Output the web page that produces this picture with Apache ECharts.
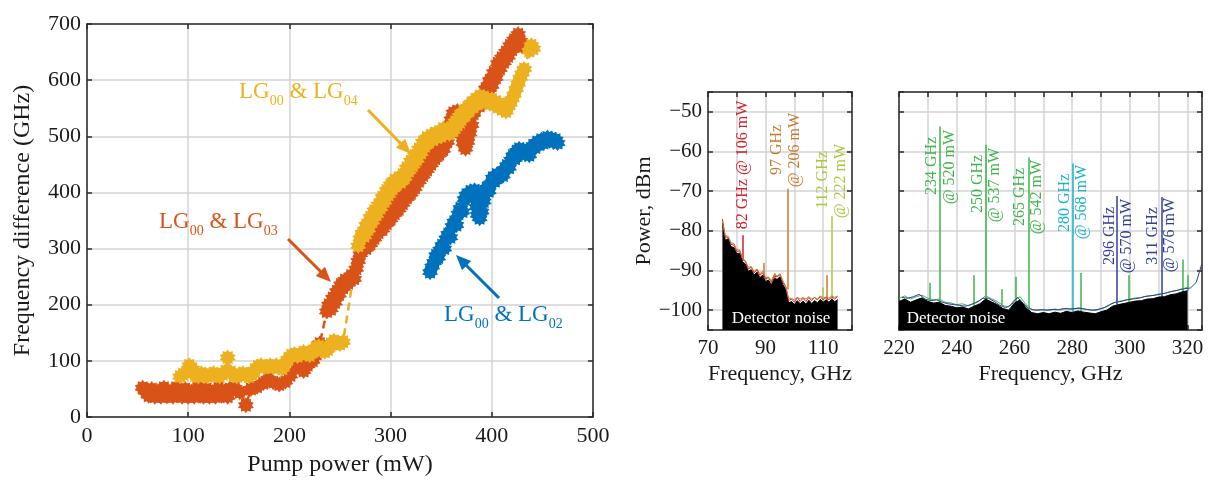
<!DOCTYPE html>
<html><head><meta charset="utf-8">
<script src="https://cdn.jsdelivr.net/npm/echarts@6/dist/echarts.min.js"></script>
<style>html,body{margin:0;padding:0;background:#fff}#c{width:1209px;height:482px}</style>
</head><body><div id="c"></div>
<script>
// ---------- Left panel: frequency difference vs pump power ----------
const lg02 = [[339,258],[341,268],[343,276],[345,288],[347,284],[349,298],[351,306],[353,300],[355,318],[357,326],[359,320],[361,340],[363,348],[365,342],[367,362],[369,372],[371,366],[373,388],[375,396],[377,392],[379,402],[381,398],[383,404],[384,390],[385,374],[386,360],[388,354],[390,366],[392,384],[393,398],[395,408],[397,402],[399,416],[401,426],[403,420],[405,432],[407,428],[409,434],[411,430],[413,442],[415,448],[417,444],[419,458],[421,466],[423,460],[425,474],[427,478],[429,472],[431,476],[433,468],[435,472],[437,466],[439,478],[441,484],[443,480],[445,490],[447,486],[449,494],[451,488],[453,494],[455,498],[457,492],[459,496],[461,490],[463,494],[465,488]];
const lg03 = [[55,52],[58,45],[61,38],[64,50],[67,36],[70,46],[73,36],[76,52],[79,37],[82,45],[85,36],[88,52],[91,40],[94,36],[97,50],[100,36],[103,45],[106,36],[109,52],[112,38],[115,36],[118,50],[121,36],[124,44],[127,36],[130,52],[133,38],[136,45],[139,36],[141,50],[146,52],[151,44],[157,21],[162,50],[168,54],[174,60],[179,68],[184,62],[190,58],[196,63],[201,74],[205,106],[209,90],[214,82],[218,92],[223,100],[227,112],[230,131],[237,188],[239,200],[241,192],[243,212],[245,204],[247,224],[249,218],[251,236],[253,230],[255,244],[258,238],[261,252],[264,246],[266,264],[268,278],[270,290],[272,302],[274,312],[276,300],[278,318],[280,308],[282,328],[284,318],[286,340],[288,328],[290,344],[292,334],[294,356],[296,344],[298,364],[300,352],[302,372],[304,362],[306,382],[308,370],[310,392],[312,380],[314,400],[316,390],[318,410],[320,398],[322,420],[324,408],[326,432],[328,420],[330,442],[332,430],[334,452],[336,440],[338,460],[340,450],[342,472],[344,460],[346,480],[348,468],[350,488],[352,476],[354,496],[356,490],[358,515],[360,530],[362,542],[364,535],[366,545],[368,520],[370,502],[372,488],[374,478],[376,490],[378,505],[380,520],[382,540],[384,550],[386,560],[388,554],[390,570],[392,562],[394,585],[396,576],[398,600],[400,590],[402,614],[404,604],[406,630],[408,620],[410,640],[412,632],[414,650],[416,642],[418,662],[420,654],[422,672],[424,666],[426,682],[428,670],[430,660]];
const lg04 = [[92,72],[95,76],[98,80],[101,92],[104,86],[107,74],[110,72],[113,78],[116,74],[119,72],[122,76],[125,78],[128,74],[131,72],[134,76],[137,82],[139,106],[142,80],[145,74],[148,72],[151,76],[154,78],[157,74],[160,72],[163,76],[166,84],[169,90],[172,92],[175,88],[178,90],[181,92],[184,88],[187,92],[190,88],[193,86],[196,96],[199,104],[202,110],[205,112],[208,108],[211,112],[214,116],[217,112],[220,110],[223,116],[226,124],[229,126],[232,118],[235,116],[238,120],[241,130],[244,136],[247,132],[250,130],[253,134],[268,305],[270,318],[272,328],[274,322],[276,342],[278,334],[280,356],[282,348],[284,368],[286,360],[288,378],[290,372],[292,392],[294,384],[296,404],[298,396],[300,414],[302,406],[304,422],[306,414],[308,426],[310,418],[312,432],[314,426],[316,444],[318,438],[320,456],[322,448],[324,466],[326,458],[328,478],[330,470],[332,490],[334,482],[336,498],[338,490],[340,502],[342,494],[344,506],[346,498],[348,508],[350,500],[352,514],[354,506],[356,512],[358,504],[360,516],[362,510],[364,526],[366,520],[368,536],[370,530],[372,544],[374,538],[376,552],[378,546],[380,560],[382,552],[384,566],[386,558],[388,572],[390,564],[392,570],[394,560],[396,566],[398,558],[400,566],[402,556],[404,562],[406,552],[408,558],[410,548],[412,554],[414,544],[416,552],[418,558],[420,566],[422,574],[424,584],[426,594],[428,604],[430,612],[432,620],[437,652],[439,662],[441,656]];

// ---------- Middle panel: 70-120 GHz spectrum ----------
const lowFreq = [75,76,77,78,79,80,81,82,83,84,85,86,87,88,89,90,91,92,93,94,95,96,97,98,99,100,101,102,103,104,105,106,107,108,109,110,111,112,113,114,115];
const lowNoise = [-78.0,-82.4,-82.0,-84.0,-84.2,-85.8,-85.6,-87.8,-88.4,-90.2,-89.8,-91.2,-90.4,-91.8,-91.2,-92.8,-92.4,-93.6,-92.0,-92.2,-91.6,-93.6,-94.8,-98.2,-97.8,-98.6,-97.6,-98.4,-97.7,-98.5,-97.5,-98.3,-97.6,-98.1,-97.3,-98.0,-97.4,-98.0,-97.2,-97.9,-97.3];
const lowRed = [-77.0,-81.6,-81.6,-83.4,-83.6,-85.2,-85.0,-87.2,-87.8,-89.6,-89.2,-90.6,-89.8,-91.2,-90.6,-92.2,-91.8,-93.0,-91.4,-91.6,-91.0,-93.0,-94.2,-97.6,-97.2,-98.0,-96.8,-97.8,-97.0,-97.8,-96.8,-97.6,-96.8,-97.4,-96.6,-97.4,-96.8,-97.4,-96.6,-97.2,-96.6];
const lowOrange = [-77.8,-81.2,-81.4,-83.0,-83.2,-84.8,-84.8,-86.8,-87.6,-89.2,-89.0,-90.2,-89.6,-90.8,-90.2,-91.8,-91.6,-92.6,-91.0,-91.4,-90.8,-92.6,-94.0,-97.0,-97.0,-97.4,-96.8,-97.2,-96.8,-97.2,-96.6,-97.2,-96.8,-97.2,-96.4,-97.0,-96.6,-97.0,-96.4,-96.8,-96.4];
const lowPeakFreq = [82, 89.4, 93.3, 97.6, 111.4, 109.8, 112.8];
const lowPeakTop  = [-81.1, -88.1, -90.7, -69.4, -91.2, -94.3, -76.3];
const lowPeakBase = [-87.4, -92.0, -92.0, -94.8, -97.6, -97.8, -97.4];
const lowPeakGroup = [0, 1, 1, 1, 1, 2, 2];

// ---------- Right panel: 220-325 GHz spectrum ----------
const highFreq = [220,222,224,226,228,230,232,234,236,238,240,242,244,246,248,250,252,254,256,258,260,262,264,266,268,270,272,274,276,278,280,282,284,286,288,290,292,294,296,298,300,302,304,306,308,310,312,314,316,318,320];
const highNoise = [-97.8,-97.2,-98.0,-97.4,-96.9,-97.8,-98.2,-98.0,-98.8,-99.0,-99.4,-99.2,-99.7,-99.0,-98.4,-97.2,-97.9,-98.6,-99.6,-100.0,-98.2,-97.4,-99.4,-100.6,-100.9,-100.6,-100.9,-100.5,-100.8,-100.3,-100.6,-100.2,-100.5,-100.7,-100.9,-100.4,-100.0,-99.0,-98.6,-98.3,-98.0,-97.7,-97.6,-97.2,-97.1,-96.7,-96.6,-96.1,-95.9,-95.4,-95.1];
const highGreen = [-97.0,-96.4,-97.2,-96.6,-96.2,-97.0,-97.4,-97.2,-98.0,-98.2,-98.6,-98.4,-98.9,-98.2,-97.6,-96.4,-97.1,-97.8,-98.8,-99.2,-97.4,-96.6,-98.6,-99.8,-100.1,-99.8,-100.1,-99.7,-100.0,-99.5,-99.8,-99.4,-99.7,-99.9,-100.1,-99.6,-99.2,-98.2,-97.8,-97.5,-97.2,-96.9,-96.8,-96.4,-96.3,-95.9,-95.8,-95.3,-95.1,-94.6,-94.3];
const highNavyFreq = [221,223,225,227,229,231,233,235,237,239,241,243,245,247,249,251,253,255,257,259,261,263,265,267,269,271,273,275,277,279,281,283,285,287,289,291,293,295,297,299,301,303,305,307,309,311,313,315,317,319,321,323,325];
const highNavy = [-96.8,-97.0,-96.6,-96.0,-97.2,-97.6,-97.4,-98.0,-98.4,-98.6,-98.8,-99.0,-98.6,-98.0,-97.0,-97.0,-97.8,-98.8,-99.4,-98.6,-96.8,-98.2,-99.6,-100.0,-99.9,-100.0,-99.8,-99.9,-99.6,-99.7,-99.6,-99.5,-99.8,-100.0,-99.8,-99.4,-98.6,-98.0,-97.8,-97.4,-97.2,-97.0,-96.6,-96.4,-96.2,-95.9,-95.6,-95.2,-94.9,-94.6,-94.4,-93.0,-88.2];
const highPeakFreq = [230.5, 234.2, 246, 249.9, 255.7, 260.6, 264.9, 280.3, 283, 295.6, 299.5, 310.9, 318.2, 319.9];
const highPeakTop  = [-93.1, -53.7, -91.2, -58.3, -94.7, -91.6, -61.5, -63.0, -90.6, -71.2, -91.2, -71.5, -87.2, -91.2];
const highPeakBase = [-97.6, -98.0, -99.0, -97.3, -98.8, -98.2, -99.5, -100.5, -100.4, -98.6, -98.0, -96.7, -95.4, -95.1];
const highPeakGroup = [0, 0, 0, 0, 0, 0, 0, 1, 0, 2, 0, 2, 0, 0];

const dbTicks = [-100, -90, -80, -70, -60, -50];
const lowLabels = [['82 GHz @ 106 mW'], ['97 GHz', '@ 206 mW'], ['112 GHz', '@ 222 mW']];
const highLabels = [['234 GHz', '@ 520 mW'], ['250 GHz', '@ 537 mW'], ['265 GHz', '@ 542 mW'], ['280 GHz', '@ 568 mW'], ['296 GHz', '@ 570 mW'], ['311 GHz', '@ 576 mW']];

// ---------- styles ----------
const SERIF = '"Liberation Serif", "Times New Roman", serif';
const C_BLUE = '#0072BD', C_RED = '#D95319', C_YEL = '#EDB120';
const lowColors = ['#d1202c', '#c87a2c', '#a9c83a'];
const highColors = ['#3db54a', '#19b3c9', '#2e3f96'];
const AX = '#2a2a2a', GRIDC = '#d3d3d3';

function starPath(n, inner) {
  let d = '';
  for (let i = 0; i < 2 * n; i++) {
    const r = i % 2 === 0 ? 1 : inner;
    const a = Math.PI * i / n - Math.PI / 2;
    d += (i === 0 ? 'M' : 'L') + (r * Math.cos(a)).toFixed(3) + ' ' + (r * Math.sin(a)).toFixed(3) + ' ';
  }
  return 'path://' + d + 'Z';
}
const STAR = starPath(10, 0.72);

function mainX(gi, min, max, interval, fmt, name, nameGap, fs, nfs) {
  return {
    gridIndex: gi, type: 'value', min, max, interval, position: 'bottom',
    name, nameLocation: 'middle', nameGap,
    nameTextStyle: { fontFamily: SERIF, fontSize: nfs, color: '#1a1a1a' },
    axisLine: { show: true, onZero: false, lineStyle: { color: AX, width: 1.5 } },
    axisTick: { show: true, inside: true, length: 5, lineStyle: { color: AX, width: 1.5 } },
    axisLabel: { show: true, margin: 8, fontFamily: SERIF, fontSize: fs, color: '#1a1a1a', formatter: fmt },
    splitLine: { show: true, lineStyle: { color: GRIDC, width: 1.5 } }
  };
}
function topX(gi, min, max, interval) {
  return {
    gridIndex: gi, type: 'value', min, max, interval, position: 'top',
    axisLine: { show: true, onZero: false, lineStyle: { color: AX, width: 1.5 } },
    axisTick: { show: true, inside: true, length: 5, lineStyle: { color: AX, width: 1.5 } },
    axisLabel: { show: false }, splitLine: { show: false }
  };
}
function mainY(gi, min, max, interval, fmt, name, nameGap, fs, nfs) {
  const a = {
    gridIndex: gi, type: 'value', min, max, position: 'left',
    name, nameLocation: 'middle', nameGap, nameRotate: 90,
    nameTextStyle: { fontFamily: SERIF, fontSize: nfs, color: '#1a1a1a' },
    axisLine: { show: true, onZero: false, lineStyle: { color: AX, width: 1.5 } },
    axisTick: { show: true, inside: true, length: 5, lineStyle: { color: AX, width: 1.5 } },
    axisLabel: { show: !!fmt, margin: 6, fontFamily: SERIF, fontSize: fs, color: '#1a1a1a', formatter: fmt },
    splitLine: { show: true, lineStyle: { color: GRIDC, width: 1.5 } }
  };
  if (interval) a.interval = interval; else a.splitNumber = 6;
  return a;
}
function rightY(gi, min, max, interval) {
  const a = {
    gridIndex: gi, type: 'value', min, max, position: 'right',
    axisLine: { show: true, onZero: false, lineStyle: { color: AX, width: 1.5 } },
    axisTick: { show: true, inside: true, length: 5, lineStyle: { color: AX, width: 1.5 } },
    axisLabel: { show: false }, splitLine: { show: false }
  };
  if (interval) a.interval = interval; else a.splitNumber = 6;
  return a;
}

const fmtLowX = v => ((v - 70) % 20 === 0 ? String(v) : '');
const fmtHighX = v => ((v - 220) % 20 === 0 ? String(v) : '');
const fmtDb = v => (dbTicks.indexOf(v) >= 0 ? String(v).replace('-', '\u2212') : '');

function scatterLine(name, data, color) {
  return {
    name, type: 'line', xAxisIndex: 0, yAxisIndex: 0, data,
    symbol: STAR, symbolSize: 16, showSymbol: true,
    itemStyle: { color }, lineStyle: { color, width: 2.5, type: [8, 5] },
    emphasis: { disabled: true }
  };
}
function trace(xi, yi, freqs, vals, color, area) {
  const s = {
    type: 'line', xAxisIndex: xi, yAxisIndex: yi, data: freqs.map((f, i) => [f, vals[i]]),
    symbol: 'none', lineStyle: { color, width: 1 }, itemStyle: { color }, emphasis: { disabled: true }
  };
  if (area) s.areaStyle = { color: '#000', opacity: 1, origin: 'start' };
  return s;
}
function peaks(xi, yi, freqs, tops, bases, groups, colors) {
  return {
    type: 'lines', coordinateSystem: 'cartesian2d', xAxisIndex: xi, yAxisIndex: yi,
    data: freqs.map((f, i) => ({ coords: [[f, bases[i]], [f, tops[i]]], lineStyle: { color: colors[groups[i]], width: 1.5, opacity: 1 } })),
    lineStyle: { width: 1.5, opacity: 1, curveness: 0 }, silent: true
  };
}

// ---------- graphic annotations ----------
const mctx = document.createElement('canvas').getContext('2d');
function tw(t, size) { mctx.font = size + 'px ' + SERIF; return mctx.measureText(t).width; }
function subLabel(x0, baseline, parts, color) {
  let x = x0; const els = [];
  parts.forEach(([t, sub]) => {
    const size = sub ? 14 : 23;
    const by = sub ? baseline + 6 : baseline;
    els.push({ type: 'text', x: x, y: by - 0.34 * size, silent: true, z: 100,
      style: { text: t, font: size + 'px ' + SERIF, fill: color, align: 'left', verticalAlign: 'middle' } });
    x += tw(t, size);
  });
  return els;
}
function arrow(x1, y1, x2, y2, color) {
  const dx = x2 - x1, dy = y2 - y1, L = Math.hypot(dx, dy), ux = dx / L, uy = dy / L;
  const hl = 15, hw = 6.5;
  const bx = x2 - ux * hl, by = y2 - uy * hl;
  return [
    { type: 'line', silent: true, z: 100, shape: { x1, y1, x2: bx + ux * 2, y2: by + uy * 2 }, style: { stroke: color, lineWidth: 3 } },
    { type: 'polygon', silent: true, z: 100, shape: { points: [[x2, y2], [bx - uy * hw, by + ux * hw], [bx + uy * hw, by - ux * hw]] }, style: { fill: color } }
  ];
}
function vText(t, x, y, color) {
  return { type: 'text', x, y, rotation: Math.PI / 2, silent: true, z: 100,
    style: { text: t, font: '16px ' + SERIF, fill: color, align: 'center', verticalAlign: 'middle' } };
}

const graphics = [];
graphics.push(...subLabel(239, 100, [['LG', 0], ['00', 1], [' & LG', 0], ['04', 1]], C_YEL));
graphics.push(...subLabel(159, 230, [['LG', 0], ['00', 1], [' & LG', 0], ['03', 1]], C_RED));
graphics.push(...subLabel(444, 323, [['LG', 0], ['00', 1], [' & LG', 0], ['02', 1]], C_BLUE));
graphics.push(...arrow(368, 110, 411, 154, C_YEL));
graphics.push(...arrow(288, 239, 331, 282, C_RED));
graphics.push(...arrow(499, 298, 456, 255, C_BLUE));
graphics.push(vText(lowLabels[0][0], 742.5, 165, lowColors[0]));
graphics.push(vText(lowLabels[1][0], 776.5, 150, lowColors[1]));
graphics.push(vText(lowLabels[1][1], 794.5, 150, lowColors[1]));
graphics.push(vText(lowLabels[2][0], 823, 180, lowColors[2]));
graphics.push(vText(lowLabels[2][1], 841, 181, lowColors[2]));
const hlPos = [[931.5, 166, 950, 167], [977.5, 184, 995, 185], [1020, 197, 1036.5, 197], [1065, 203, 1081.5, 202], [1110, 236, 1126.5, 236], [1153, 236, 1170, 235]];
const hlCol = [0, 0, 0, 1, 2, 2];
highLabels.forEach((lb, i) => {
  const p = hlPos[i];
  graphics.push(vText(lb[0], p[0], p[1], highColors[hlCol[i]]));
  graphics.push(vText(lb[1], p[2], p[3], highColors[hlCol[i]]));
});
graphics.push({ type: 'text', x: 781, y: 319, silent: true, z: 100, style: { text: 'Detector noise', font: '17px ' + SERIF, fill: '#fff', align: 'center', verticalAlign: 'middle' } });
graphics.push({ type: 'text', x: 956, y: 319, silent: true, z: 100, style: { text: 'Detector noise', font: '17px ' + SERIF, fill: '#fff', align: 'center', verticalAlign: 'middle' } });

const option = {
  animation: false,
  backgroundColor: '#fff',
  grid: [
    { left: 87, top: 24, width: 506, height: 393 },
    { left: 708, top: 92, width: 144, height: 238 },
    { left: 899, top: 92, width: 303, height: 238 }
  ],
  xAxis: [
    mainX(0, 0, 500, 100, v => String(v), 'Pump power (mW)', 36, 22, 24),
    topX(0, 0, 500, 100),
    mainX(1, 70, 120, 10, fmtLowX, 'Frequency, GHz', 33, 21, 22),
    topX(1, 70, 120, 10),
    mainX(2, 220, 325, 10, fmtHighX, 'Frequency, GHz', 33, 21, 22),
    topX(2, 220, 325, 10)
  ],
  yAxis: [
    mainY(0, 0, 700, 100, v => String(v), 'Frequency difference (GHz)', 52, 22, 24),
    rightY(0, 0, 700, 100),
    mainY(1, -105, -45, null, fmtDb, 'Power, dBm', 52, 21, 22),
    rightY(1, -105, -45, null),
    mainY(2, -105, -45, null, null, '', 10, 21, 22),
    rightY(2, -105, -45, null)
  ],
  series: [
    scatterLine('LG00 & LG02', lg02, C_BLUE),
    scatterLine('LG00 & LG03', lg03, C_RED),
    scatterLine('LG00 & LG04', lg04, C_YEL),
    trace(2, 2, lowFreq, lowNoise, '#000', true),
    trace(2, 2, lowFreq, lowRed, lowColors[0], false),
    trace(2, 2, lowFreq, lowOrange, lowColors[1], false),
    peaks(2, 2, lowPeakFreq, lowPeakTop, lowPeakBase, lowPeakGroup, lowColors),
    trace(4, 4, highFreq, highNoise, '#000', true),
    trace(4, 4, highFreq, highGreen, highColors[0], false),
    trace(4, 4, highNavyFreq, highNavy, highColors[2], false),
    peaks(4, 4, highPeakFreq, highPeakTop, highPeakBase, highPeakGroup, highColors)
  ],
  graphic: graphics
};
const chart = echarts.init(document.getElementById('c'), null, { renderer: 'canvas' });
chart.setOption(option);
</script></body></html>
